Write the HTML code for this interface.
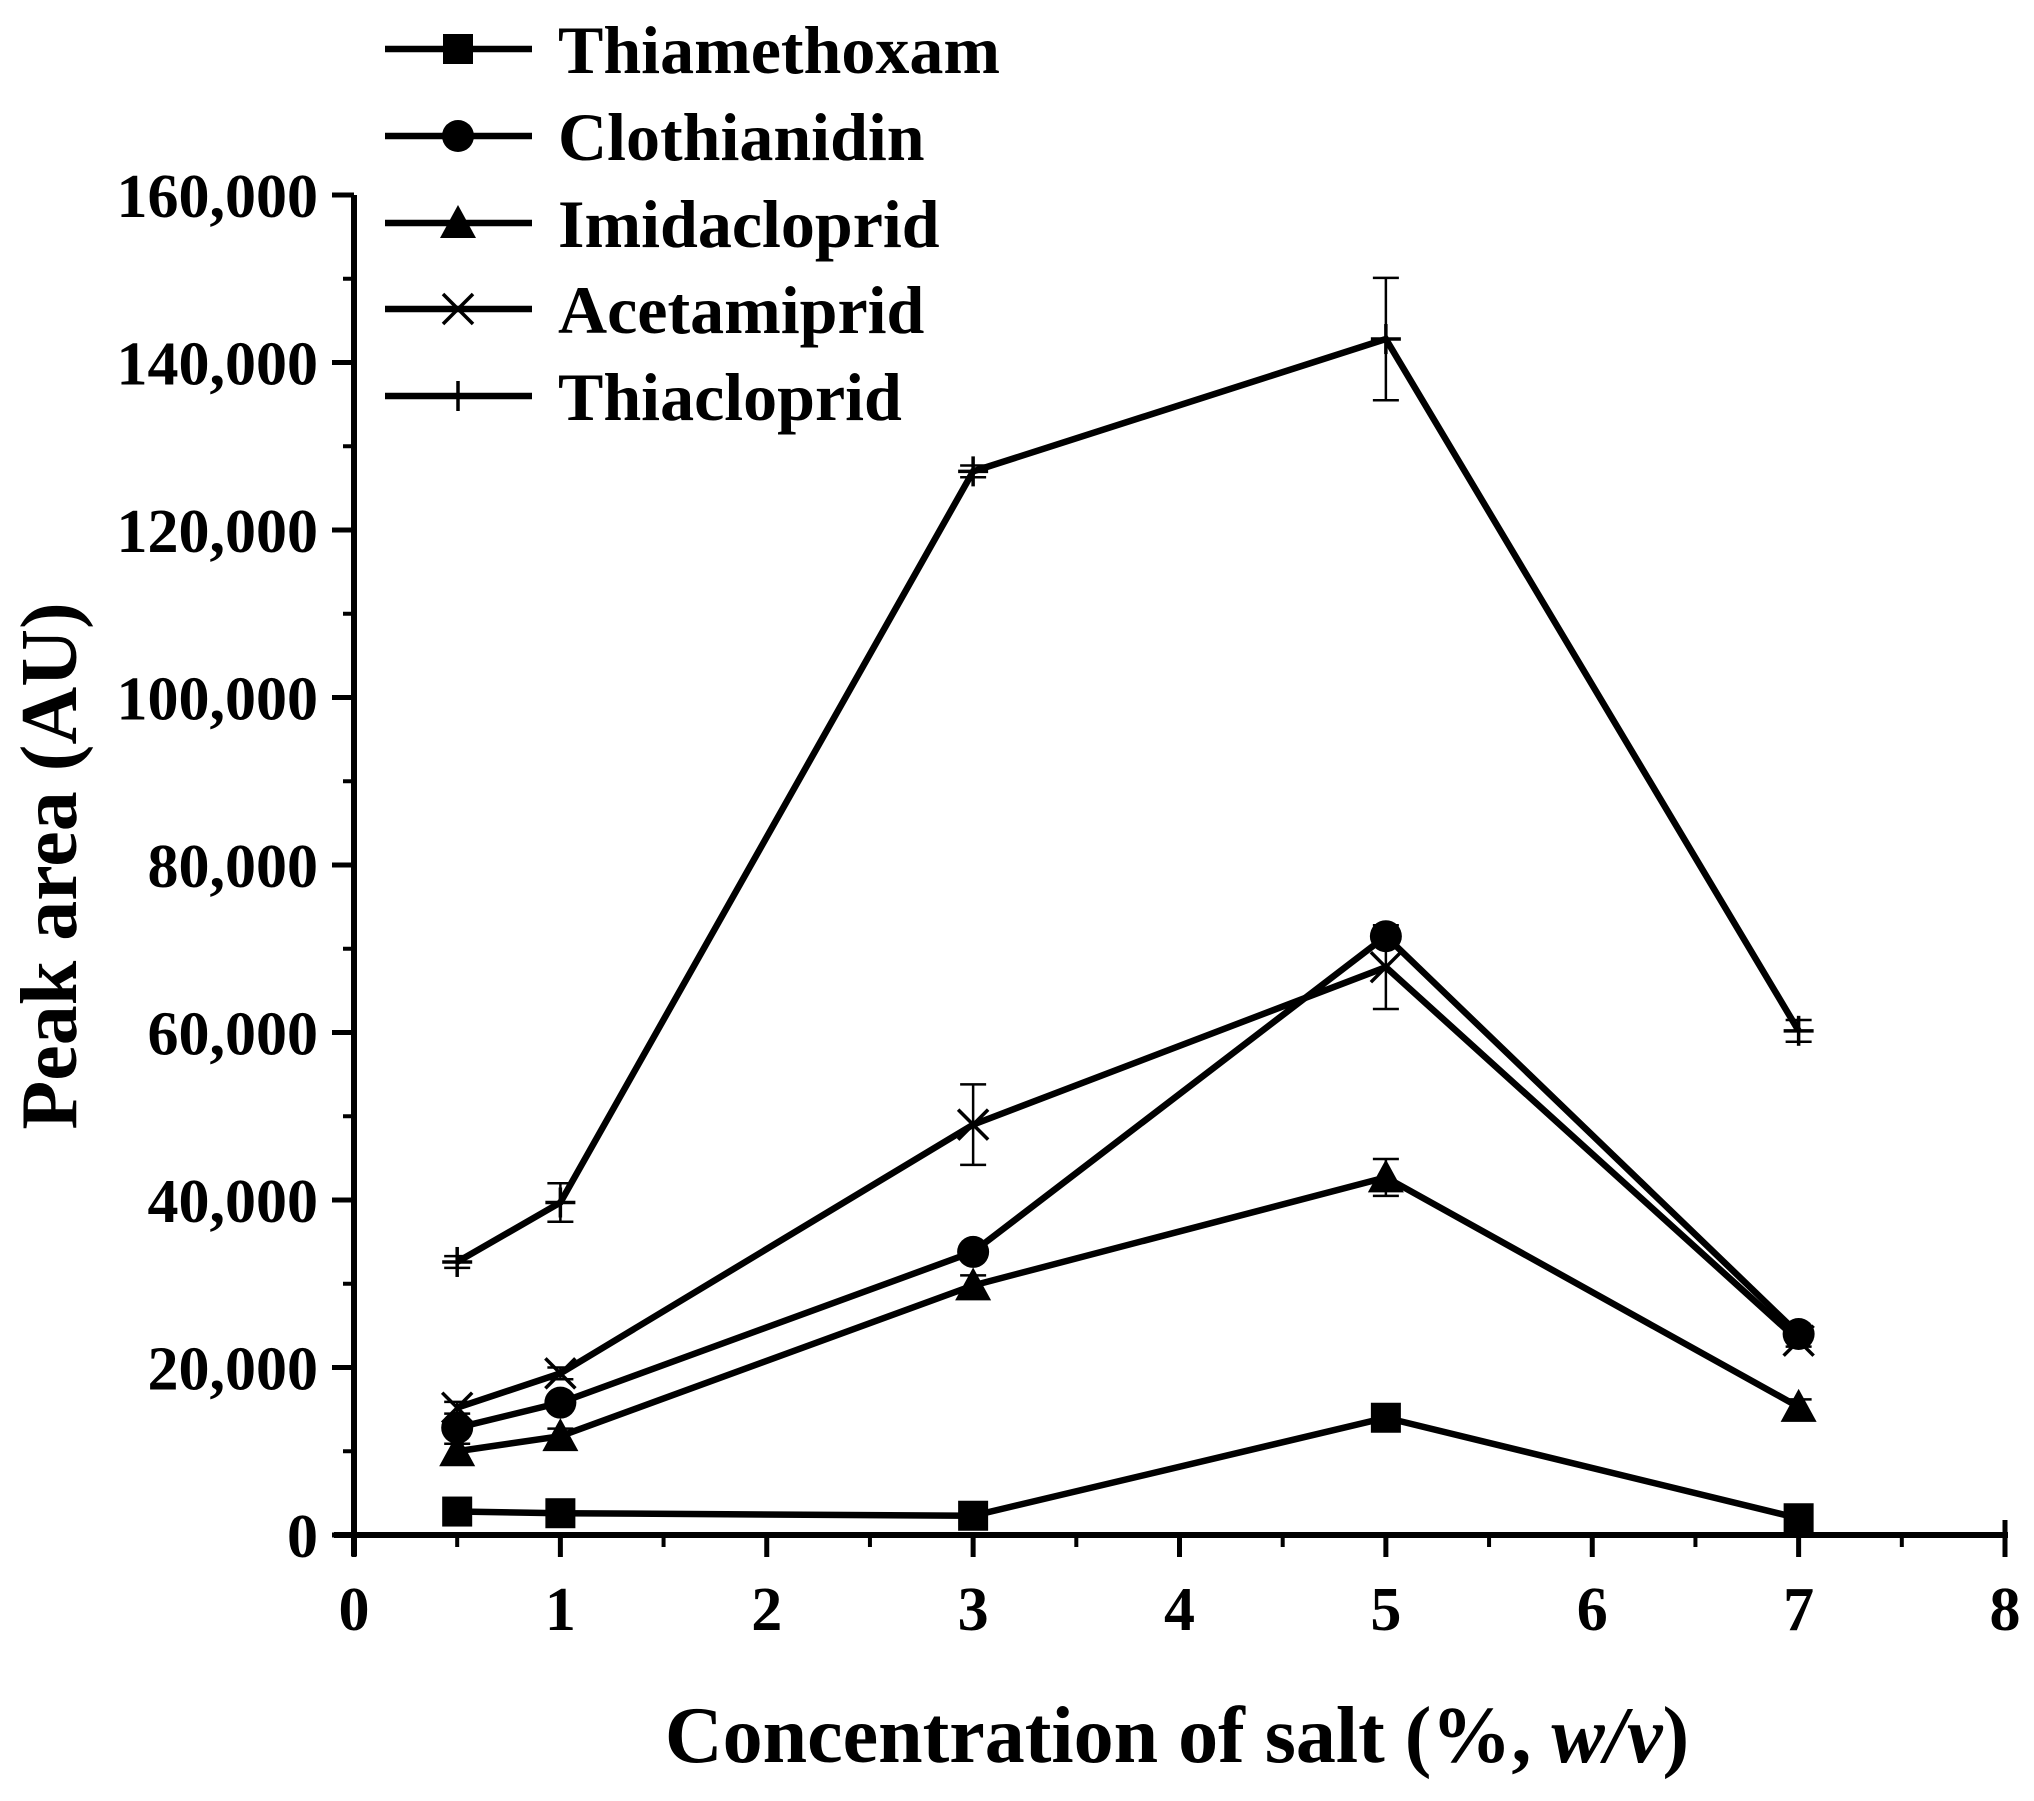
<!DOCTYPE html>
<html><head><meta charset="utf-8"><style>
html,body{margin:0;padding:0;background:#fff;}
svg{display:block;font-family:"Liberation Serif",serif;font-weight:bold;}
</style></head><body>
<svg id="chart" width="2034" height="1801" viewBox="0 0 2034 1801" xmlns="http://www.w3.org/2000/svg">
<g id="axes"></g><g id="series"></g><g id="legend"></g>
<text x="1177" y="1762" font-size="80" text-anchor="middle">Concentration of salt (%, <tspan font-style="italic">w/v</tspan>)</text>
<text transform="translate(76,866) rotate(-90)" font-size="80" text-anchor="middle">Peak area (AU)</text>
</svg>
<script>
const xValues=[0.5,1,3,5,7];
const seriesNames=["Thiamethoxam","Clothianidin","Imidacloprid","Acetamiprid","Thiacloprid"];
const thiamethoxam=[2800,2600,2300,14000,2000];
const clothianidin=[12800,15800,33800,71500,24000];
const imidacloprid=[10000,11800,29800,42700,15300];
const acetamiprid=[15200,19300,49000,67800,23200];
const thiacloprid=[32600,39700,127000,142800,60200];
const thiaclopridErr=[700,2300,700,7300,1300];
const acetamipridErr=[700,700,4800,5000,700];
const imidaclopridErr=[900,900,1200,2200,900];
const clothianidinErr=[500,500,500,500,500];
const thiamethoxamErr=[300,300,300,300,300];
const xTicks=[0,1,2,3,4,5,6,7,8];
const yTicks=[0,20000,40000,60000,80000,100000,120000,140000,160000];
const yTickLabels=["0","20,000","40,000","60,000","80,000","100,000","120,000","140,000","160,000"];

const NS="http://www.w3.org/2000/svg";
const X=v=>354+v*(2005-354)/8;
const Y=v=>1535-v*(1535-195)/160000;
function mk(parent,tag,attrs){const e=document.createElementNS(NS,tag);for(const k in attrs)e.setAttribute(k,attrs[k]);parent.appendChild(e);return e;}
const axes=document.getElementById('axes'),ser=document.getElementById('series'),leg=document.getElementById('legend');

const ya=mk(axes,'line',{x1:354,y1:195,x2:354,y2:1556,stroke:'#000','stroke-width':6});


const xa=mk(axes,'line',{x1:334,y1:1535,x2:2008,y2:1535,stroke:'#000','stroke-width':6});


yTicks.forEach((v,i)=>{
  mk(axes,'line',{x1:332,y1:Y(v),x2:354,y2:Y(v),stroke:'#000','stroke-width':5});
  if(i<yTicks.length-1) mk(axes,'line',{x1:343,y1:Y(v+10000),x2:354,y2:Y(v+10000),stroke:'#000','stroke-width':4});
  const t=mk(axes,'text',{x:318,y:Y(v)+22,'font-size':62,'text-anchor':'end'});
  t.textContent=yTickLabels[i];
  
  
});
xTicks.forEach((v,i)=>{
  mk(axes,'line',{x1:X(v),y1:1535,x2:X(v),y2:1557,stroke:'#000','stroke-width':5});
  if(i<xTicks.length-1) mk(axes,'line',{x1:X(v+0.5),y1:1535,x2:X(v+0.5),y2:1547,stroke:'#000','stroke-width':4});
  const t=mk(axes,'text',{x:X(v),y:1630,'font-size':62,'text-anchor':'middle'});
  t.textContent=String(v);
  
  
});
mk(axes,'line',{x1:2005,y1:1520,x2:2005,y2:1535,stroke:'#000','stroke-width':5});

function marker(g,type,cx,cy){
  const s=15;
  if(type===0) mk(g,'rect',{x:cx-s,y:cy-s,width:2*s,height:2*s,fill:'#000'});
  else if(type===1) mk(g,'circle',{cx:cx,cy:cy,r:s+1,fill:'#000'});
  else if(type===2) mk(g,'polygon',{points:`${cx},${cy-s-3} ${cx-s-3},${cy+s} ${cx+s+3},${cy+s}`,fill:'#000'});
  else if(type===3){mk(g,'line',{x1:cx-s,y1:cy-s,x2:cx+s,y2:cy+s,stroke:'#000','stroke-width':3.5});mk(g,'line',{x1:cx-s,y1:cy+s,x2:cx+s,y2:cy-s,stroke:'#000','stroke-width':3.5});}
  else {mk(g,'line',{x1:cx-s,y1:cy,x2:cx+s,y2:cy,stroke:'#000','stroke-width':3.5});mk(g,'line',{x1:cx,y1:cy-s,x2:cx,y2:cy+s,stroke:'#000','stroke-width':3.5});}
}
const allData=[thiamethoxam,clothianidin,imidacloprid,acetamiprid,thiacloprid];
const allErr=[thiamethoxamErr,clothianidinErr,imidaclopridErr,acetamipridErr,thiaclopridErr];
const keys=["thiamethoxam","clothianidin","imidacloprid","acetamiprid","thiacloprid"];
allData.forEach((d,si)=>{
  const g=mk(ser,'g',{});
  
  
  const pl=mk(g,'polyline',{points:d.map((v,i)=>X(xValues[i])+','+Y(v)).join(' '),fill:'none',stroke:'#000','stroke-width':6.5,'stroke-linejoin':'miter'});
  
  
  d.forEach((v,i)=>{
    const e=allErr[si][i],cx=X(xValues[i]);
    mk(g,'line',{x1:cx,y1:Y(v-e),x2:cx,y2:Y(v+e),stroke:'#000','stroke-width':2.5});
    mk(g,'line',{x1:cx-13,y1:Y(v-e),x2:cx+13,y2:Y(v-e),stroke:'#000','stroke-width':2.5});
    mk(g,'line',{x1:cx-13,y1:Y(v+e),x2:cx+13,y2:Y(v+e),stroke:'#000','stroke-width':2.5});
    marker(g,si,cx,Y(v));
  });
});
const rows=[49,136,223,309,396];
seriesNames.forEach((n,i)=>{
  const g=mk(leg,'g',{});
  
  
  mk(g,'line',{x1:385,y1:rows[i],x2:532,y2:rows[i],stroke:'#000','stroke-width':6.5});
  marker(g,i,458,rows[i]);
  const t=mk(g,'text',{x:558,y:rows[i]+24,'font-size':68});
  t.textContent=n;
});
</script>
</body></html>
